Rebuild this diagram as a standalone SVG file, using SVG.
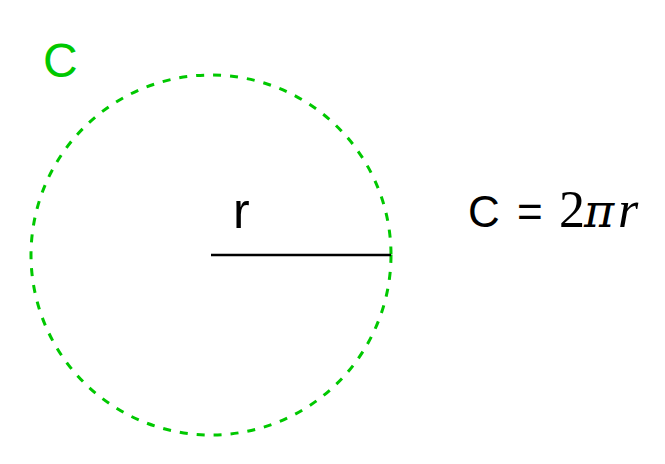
<svg xmlns="http://www.w3.org/2000/svg" width="665" height="464" viewBox="0 0 665 464">
<style>
.sans{font-family:"Liberation Sans",Arial,sans-serif}
.math{font-family:"Liberation Serif","Times New Roman",serif;font-size:52px;fill:#000}
</style>
<rect width="665" height="464" fill="#ffffff"/>
<g id="circle">
<circle cx="211" cy="255" r="180" fill="none" stroke="#00c800" stroke-width="3" stroke-dasharray="8,9"/>
<text class="sans" x="43" y="77" font-size="48" fill="#00c800">C</text>
</g>
<g id="radius">
<line x1="211" y1="255" x2="391" y2="255" stroke="#000" stroke-width="2.5"/>
<text class="sans" x="233" y="228" font-size="50" fill="#000">r</text>
</g>
<g id="formula">
<text class="sans" y="227" font-size="44" fill="#000"><tspan x="468">C</tspan><tspan x="517">=</tspan><tspan class="math" x="559">2</tspan><tspan class="math" x="584" font-style="italic" style="font-family:'DejaVu Serif',serif;font-size:46px">π</tspan><tspan class="math" x="618" font-style="italic">r</tspan></text>
</g>
</svg>
